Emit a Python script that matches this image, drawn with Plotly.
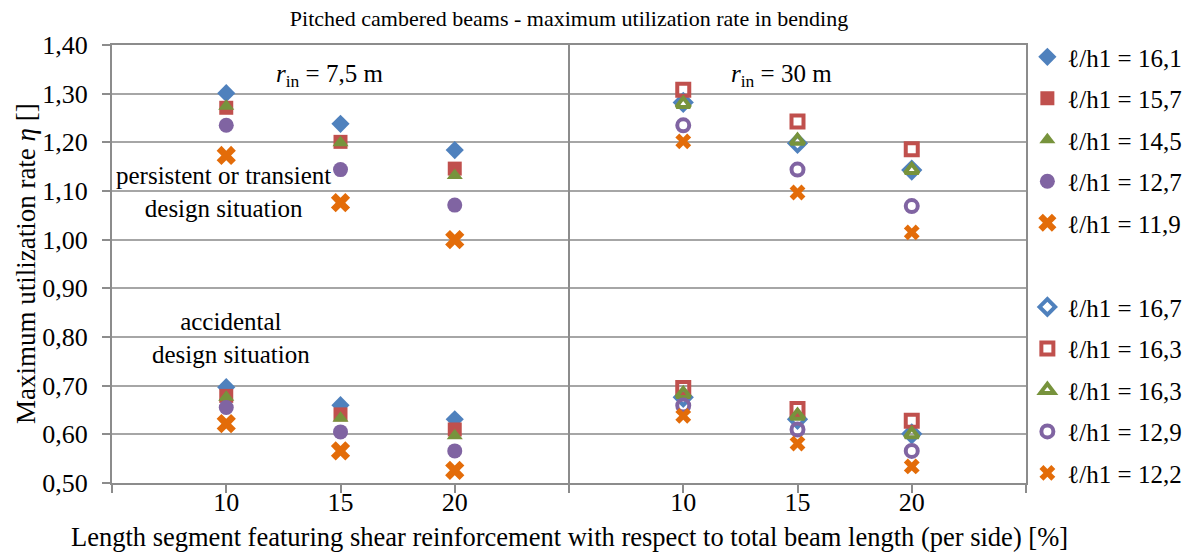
import plotly.graph_objects as go

# ---------------- data ----------------
segment_pct = [10, 15, 20]          # tick labels (per panel)
radii_labels = ["7,5", "30"]

# r_in = 7,5 m  (filled markers)  -> persistent/transient, accidental
lh_7_5 = ["16,1", "15,7", "14,5", "12,7", "11,9"]
p75_161 = [1.301, 1.238, 1.184]
p75_157 = [1.271, 1.201, 1.146]
p75_145 = [1.274, 1.199, 1.132]
p75_127 = [1.235, 1.144, 1.071]
p75_119 = [1.173, 1.076, 1.000]
a75_161 = [0.697, 0.660, 0.631]
a75_157 = [0.679, 0.641, 0.610]
a75_145 = [0.676, 0.633, 0.597]
a75_127 = [0.655, 0.605, 0.566]
a75_119 = [0.622, 0.566, 0.526]

# r_in = 30 m  (open markers)
lh_30 = ["16,7", "16,3", "16,3", "12,9", "12,2"]
p30_167 = [1.282, 1.198, 1.143]
p30_163a = [1.308, 1.243, 1.186]
p30_163b = [1.279, 1.203, 1.143]
p30_129 = [1.235, 1.144, 1.069]
p30_122 = [1.202, 1.097, 1.015]
a30_167 = [0.676, 0.631, 0.601]
a30_163a = [0.695, 0.652, 0.628]
a30_163b = [0.683, 0.638, 0.600]
a30_129 = [0.659, 0.610, 0.566]
a30_122 = [0.638, 0.581, 0.534]

x_title = "Length segment featuring shear reinforcement with respect to total beam length (per side) [%]"
y_title = "Maximum utilization rate <i>η</i> []"
chart_title = "Pitched cambered beams - maximum utilization rate in bending"

# ---------------- styling ----------------
FONT = "Liberation Serif, Times New Roman, serif"
colors = ["#4F81BD", "#C0504D", "#77933C", "#8064A2", "#E36C09"]
sym_fill = ["diamond", "square", "triangle-up", "circle", "x"]
size_fill = [14, 14, 14, 15, 17]
sym_open = ["diamond-open", "square-open", "triangle-up-open", "circle-open", "x"]
size_open = [12, 12, 12, 12, 14]

# category slot positions: left panel slots 1..3, right panel 5..7
left_pos = [1 + i for i in range(len(segment_pct))]
right_pos = [5 + i for i in range(len(segment_pct))]

fig = go.Figure()

series_75 = [(p75_161, a75_161), (p75_157, a75_157), (p75_145, a75_145),
             (p75_127, a75_127), (p75_119, a75_119)]
series_30 = [(p30_167, a30_167), (p30_163a, a30_163a), (p30_163b, a30_163b),
             (p30_129, a30_129), (p30_122, a30_122)]

for i, (p, a) in enumerate(series_75):
    fig.add_trace(go.Scatter(
        x=left_pos + left_pos, y=p + a, mode="markers",
        name="ℓ/h1 = " + lh_7_5[i], legend="legend", legendgroup="g75_%d" % i,
        marker=dict(symbol=sym_fill[i], size=size_fill[i], color=colors[i],
                    line=dict(width=0)),
    ))

for i, (p, a) in enumerate(series_30):
    fig.add_trace(go.Scatter(
        x=right_pos + right_pos, y=p + a, mode="markers",
        name="ℓ/h1 = " + lh_30[i], legend="legend2", legendgroup="g30_%d" % i,
        marker=dict(symbol=sym_open[i], size=size_open[i], color=colors[i],
                    line=dict(width=4 if i < 4 else 0, color=colors[i])),
    ))

tickvals = list(range(0, 9))
ticktext = [""] + [str(v) for v in segment_pct] + [""] + [str(v) for v in segment_pct] + [""]

axis_col = "#8C8C8C"
grid_col = "#A6A6A6"

fig.update_layout(
    width=1194, height=553,
    margin=dict(l=112, r=168, t=45, b=70, autoexpand=False),
    paper_bgcolor="white", plot_bgcolor="white",
    separators=", ",
    font=dict(family=FONT, color="black", size=24),
    title=dict(text=chart_title,
               x=(112 + 1026) / 2 / 1194, xanchor="center", y=0.967, yanchor="middle",
               font=dict(size=22, family=FONT)),
    xaxis=dict(range=[0, 8], tickvals=tickvals, ticktext=ticktext,
               showgrid=False, zeroline=False, automargin=False,
               showline=True, linecolor=axis_col, linewidth=2, mirror=True,
               ticks="outside", ticklen=8, tickwidth=2, tickcolor=axis_col,
               tickfont=dict(size=26, family=FONT), ticklabelstandoff=-13),
    yaxis=dict(range=[0.5, 1.4], dtick=0.1, tick0=0.5, tickformat=".2f",
               showgrid=True, gridcolor=grid_col, gridwidth=2, zeroline=False,
               automargin=False,
               showline=True, linecolor=axis_col, linewidth=2, mirror=True,
               ticks="outside", ticklen=8, tickwidth=2, tickcolor=axis_col,
               tickfont=dict(size=26, family=FONT), ticklabelstandoff=9),
    legend=dict(x=1.0015, xanchor="left", y=1.025, yanchor="top",
                font=dict(size=25, family=FONT), traceorder="grouped",
                tracegroupgap=6, bgcolor="rgba(0,0,0,0)", borderwidth=0),
    legend2=dict(x=1.0015, xanchor="left", y=0.454, yanchor="top",
                 font=dict(size=25, family=FONT), traceorder="grouped",
                 tracegroupgap=6, bgcolor="rgba(0,0,0,0)", borderwidth=0),
)

# axis titles
fig.add_annotation(x=0.5, y=-0.124, xref="paper", yref="paper", xanchor="center",
                   yanchor="middle", showarrow=False, text=x_title,
                   font=dict(size=26.5, family=FONT, color="black"))
fig.add_annotation(x=-0.094, y=0.5, xref="paper", yref="paper", xanchor="center",
                   yanchor="middle", showarrow=False, text=y_title, textangle=-90,
                   font=dict(size=27, family=FONT, color="black"))

# panel separator
fig.add_shape(type="line", xref="x", yref="paper", x0=4, x1=4, y0=0, y1=1,
              line=dict(color=axis_col, width=2))

ann_font = dict(size=25, family=FONT, color="black")
fig.add_annotation(x=1.9, y=1.338, xref="x", yref="y", showarrow=False,
                   text="<i>r</i><sub>in</sub> = " + radii_labels[0] + " m", font=ann_font)
fig.add_annotation(x=5.86, y=1.338, xref="x", yref="y", showarrow=False,
                   text="<i>r</i><sub>in</sub> = " + radii_labels[1] + " m", font=ann_font)
fig.add_annotation(x=0.98, y=1.098, xref="x", yref="y", showarrow=False,
                   text="persistent or transient<br>design situation", font=ann_font,
                   align="center")
fig.add_annotation(x=1.04, y=0.798, xref="x", yref="y", showarrow=False,
                   text="accidental<br>design situation", font=ann_font, align="center")

fig.write_html("out.html")
